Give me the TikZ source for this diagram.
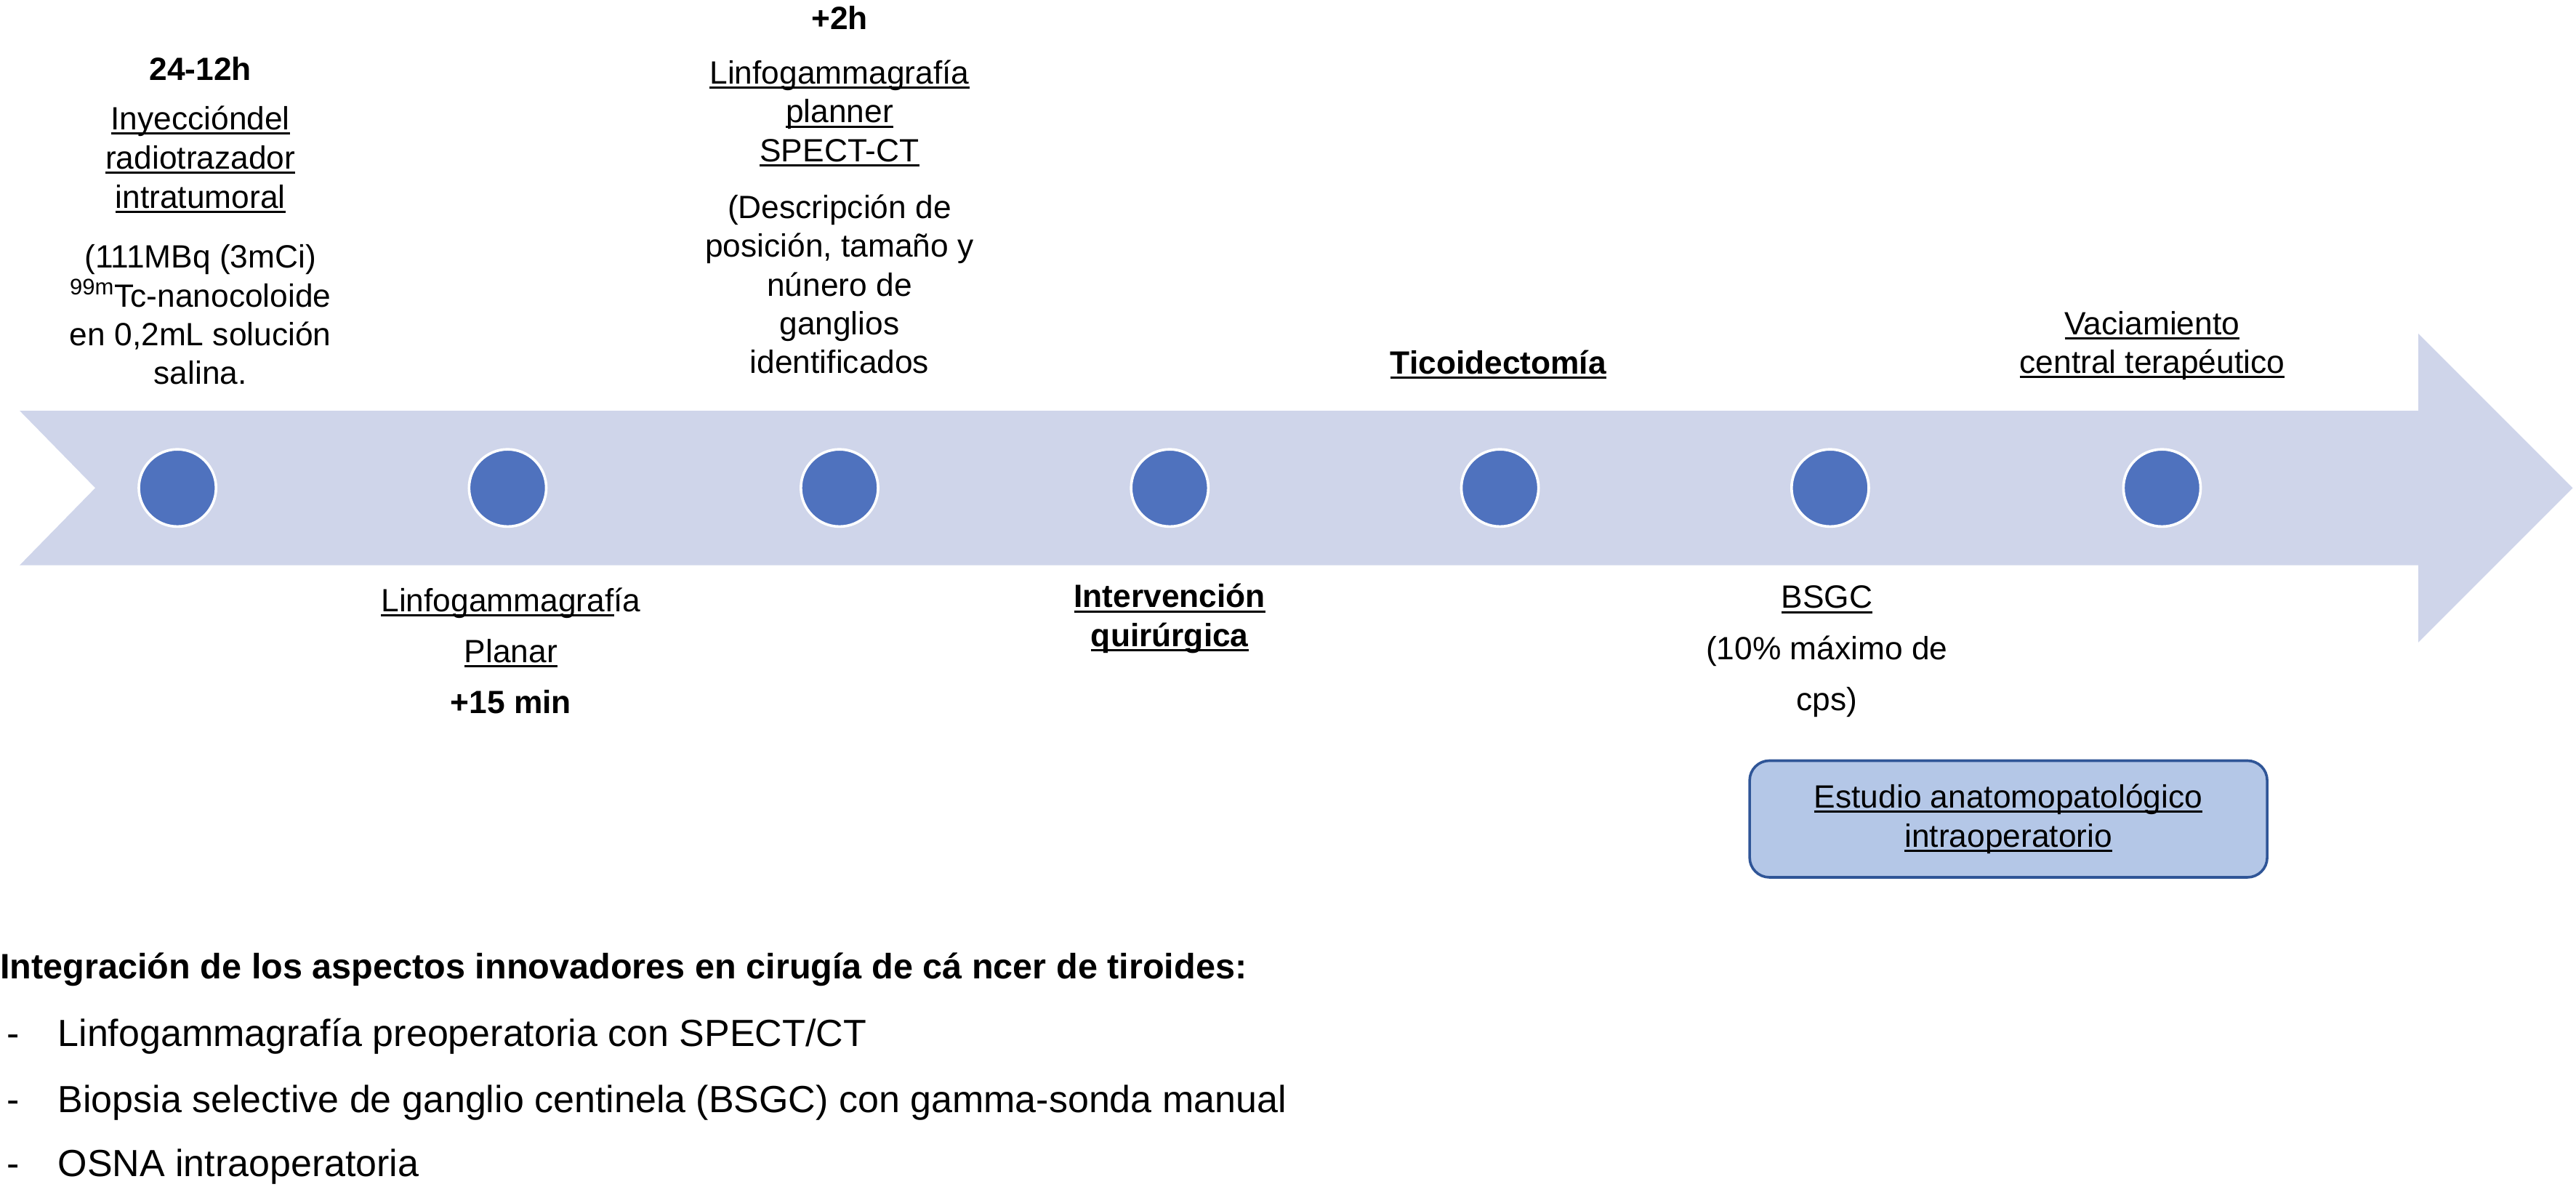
\documentclass[tikz,border=0pt]{standalone}
\usepackage{fontspec}
\setmainfont{Liberation Sans}
\newsavebox{\myulbox}
\newcommand{\myul}[1]{\leavevmode\sbox{\myulbox}{#1}\rlap{\rule[-2.9pt]{\wd\myulbox}{1.3pt}}\usebox{\myulbox}}
\definecolor{arrowfill}{RGB}{207,213,234}
\definecolor{dotblue}{RGB}{79,114,190}
\definecolor{boxfill}{RGB}{180,199,231}
\definecolor{boxborder}{RGB}{47,85,151}
\tikzset{
  lbl/.style={font=\fontsize{19.6}{23.5}\selectfont, align=center, inner sep=0pt},
  lblwide/.style={font=\fontsize{19.6}{31}\selectfont, align=center, inner sep=0pt},
  dot/.style={circle, minimum size=47pt, inner sep=0pt, fill=dotblue, draw=white, line width=1.6pt},
  infobox/.style={rounded corners=12pt, draw=boxborder, line width=1.6pt, fill=boxfill,
    minimum width=315pt, minimum height=71pt, inner sep=0pt,
    font=\fontsize{19.6}{24}\selectfont, align=center},
  bigtxt/.style={font=\fontsize{23}{27}\selectfont, inner sep=0pt, anchor=west},
  dashmark/.style={font=\fontsize{23}{27}\selectfont, inner sep=0pt, anchor=base west, xshift=-31pt},
}
\begin{document}
\begin{tikzpicture}[x=1pt,y=-1pt]
\useasboundingbox (0,0) rectangle (1568,722.5);
% timeline arrow
\fill[arrowfill] (12,250) -- (1472,250) -- (1472,203) -- (1566,297) -- (1472,391)
  -- (1472,344) -- (12,344) -- (58,297) -- cycle;
% dots
\foreach \i/\x in {1/108,2/309,3/511,4/712,5/913,6/1114,7/1316}
  \node[dot] (c\i) at (\x,297) {};
% column 1
\node[lbl, font=\fontsize{19.6}{23.5}\selectfont\bfseries] (t1) at (122,42) {24-12h};
\node[lbl] (a1) at (122,97) {\myul{Inyeccióndel}\\[0.5pt]\myul{radiotrazador}\\[0.5pt]\myul{intratumoral}};
\node[lbl] (b1) at (122,191.5) {(111MBq (3mCi)\\\textsuperscript{99m}Tc-nanocoloide\\en 0,2mL solución\\salina.};
% column 3
\node[lbl, font=\fontsize{19.6}{23.5}\selectfont\bfseries] (t3) at (511,11) {+2h};
\node[lbl] (a3) at (511,69) {\myul{Linfogammagrafía}\\\myul{planner}\\\myul{SPECT-CT}};
\node[lbl] (b3) at (511,173) {(Descripción de\\posición, tamaño y\\núnero de\\ganglios\\identificados};
% column 5
\node[lbl, font=\fontsize{19.6}{23.5}\selectfont\bfseries] (a5) at (912,222) {\myul{Ticoidectomía}};
% column 7
\node[lbl] (a7) at (1310,210.5) {\myul{Vaciamiento}\\\myul{central terapéutico}};
% column 2
\node[lblwide] (a2) at (311,396) {\myul{Linfogammagraf}ía\\\myul{Planar}\\\textbf{+15 min}};
% column 4
\node[lbl, font=\fontsize{19.6}{23.5}\selectfont\bfseries] (a4) at (712,376.5) {\myul{Intervención}\\\myul{quirúrgica}};
% column 6
\node[lblwide] (a6) at (1112,396.5) {\myul{BSGC}\\(10\% máximo de\\cps)};
% box
\node[infobox] (estudio) at (1222.5,498.5) {\myul{Estudio anatomopatológico}\\\myul{intraoperatorio}};
% bottom text
\node[bigtxt, font=\fontsize{21.5}{27}\selectfont\bfseries] (title) at (0,590) {Integración de los aspectos innovadores en cirugía de cá ncer de tiroides:};
\node[bigtxt] (l1) at (35,631) {Linfogammagrafía preoperatoria con SPECT/CT};
\node[bigtxt] (l2) at (35,671) {Biopsia selective de ganglio centinela (BSGC) con gamma-sonda manual};
\node[bigtxt] (l3) at (35,710) {OSNA intraoperatoria};
\node[dashmark] (d1) at (l1.base west) {-};
\node[dashmark] (d2) at (l2.base west) {-};
\node[dashmark] (d3) at (l3.base west) {-};
\end{tikzpicture}
\end{document}
